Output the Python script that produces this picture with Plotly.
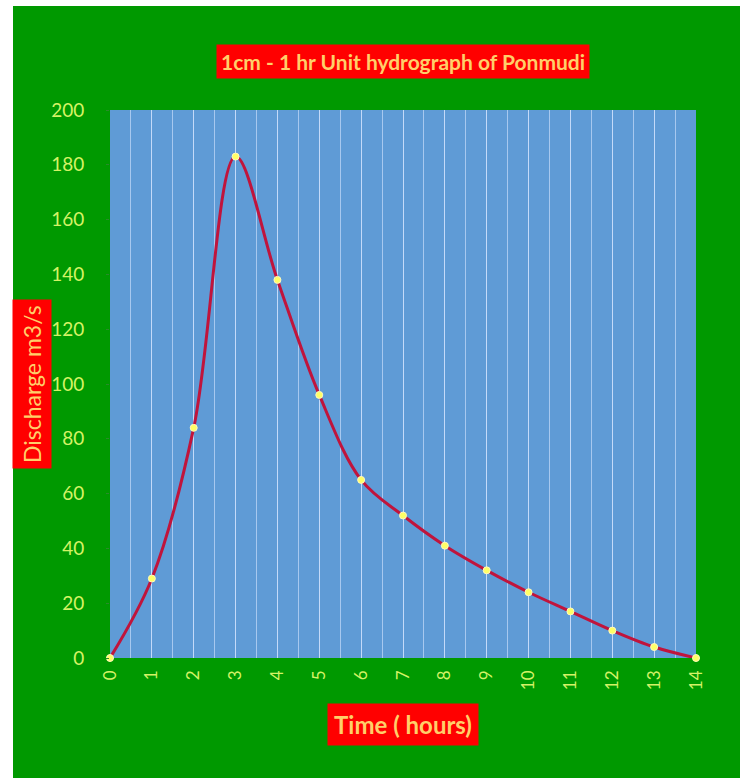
import plotly.graph_objects as go

# Unit hydrograph ordinates (1 cm - 1 hr) for Ponmudi
time_hr = [0, 1, 2, 3, 4, 5, 6, 7, 8, 9, 10, 11, 12, 13, 14]
discharge = [0, 29, 84, 183, 138, 96, 65, 52, 41, 32, 24, 17, 10, 4, 0]
x_ticks = list(range(0, 15))
y_ticks = list(range(0, 201, 20))

GREEN = "#009900"
PLOT_BLUE = "#5f9bd6"
TICK_COLOR = "#d4f266"
TITLE_TEXT = "#ffcf6a"
LABEL_RED = "#ff0000"
FONT = "Lato"
GRID = "rgba(215,230,255,0.6)"

fig = go.Figure()
fig.add_trace(go.Scatter(
    x=time_hr, y=discharge,
    mode="lines+markers",
    line=dict(color="#c0143c", width=3, shape="spline", smoothing=1.0),
    marker=dict(color="#ffff66", size=7, line=dict(color="#fff8c0", width=1)),
    cliponaxis=False,
    showlegend=False,
))

fig.update_layout(
    width=740, height=778,
    margin=dict(l=110, r=44, t=110, b=120),
    paper_bgcolor=GREEN,
    plot_bgcolor=PLOT_BLUE,
    font=dict(family=FONT, color=TICK_COLOR, size=15),
    xaxis=dict(
        range=[0, 14], tickvals=x_ticks, tickangle=-90,
        showgrid=True, gridcolor=GRID, gridwidth=1,
        minor=dict(dtick=0.5, tick0=0, showgrid=True,
                   gridcolor=GRID, gridwidth=1),
        zeroline=False, showline=False, ticks="",
        ticklabelstandoff=8,
        tickfont=dict(size=17, color=TICK_COLOR, family=FONT),
    ),
    yaxis=dict(
        range=[0, 200], tickvals=y_ticks,
        showgrid=False, zeroline=False, showline=False,
        ticks="outside", ticklen=3, tickcolor="#2a8a2a",
        ticklabelstandoff=18,
        tickfont=dict(size=19, color=TICK_COLOR, family=FONT),
    ),
    shapes=[
        # white margin strips along the left and top edges
        dict(type="rect", xref="paper", yref="paper",
             x0=-0.2, x1=(13 - 110) / 586, y0=-0.3, y1=1.3,
             fillcolor="white", line=dict(width=0), layer="below"),
        dict(type="rect", xref="paper", yref="paper",
             x0=-0.2, x1=1.2, y0=1 + (110 - 6) / 548, y1=1.3,
             fillcolor="white", line=dict(width=0), layer="below"),
    ],
    annotations=[
        dict(text="<b>1cm - 1 hr Unit hydrograph of Ponmudi</b>",
             xref="paper", yref="paper", x=0.5, y=1 + (110 - 61) / 548,
             xanchor="center", yanchor="middle", showarrow=False,
             bgcolor=LABEL_RED, borderpad=4,
             font=dict(family=FONT, size=21, color=TITLE_TEXT)),
        dict(text="Discharge m3/s",
             xref="paper", yref="paper", x=(32 - 110) / 586, y=0.5,
             xanchor="center", yanchor="middle", showarrow=False,
             textangle=-90, bgcolor=LABEL_RED, borderpad=5,
             font=dict(family=FONT, size=23, color=TITLE_TEXT)),
        dict(text="<b>Time ( hours)</b>",
             xref="paper", yref="paper", x=0.5, y=-(724 - 658) / 548,
             xanchor="center", yanchor="middle", showarrow=False,
             bgcolor=LABEL_RED, borderpad=6,
             font=dict(family=FONT, size=24, color=TITLE_TEXT)),
    ],
)

fig.write_html("out.html")
